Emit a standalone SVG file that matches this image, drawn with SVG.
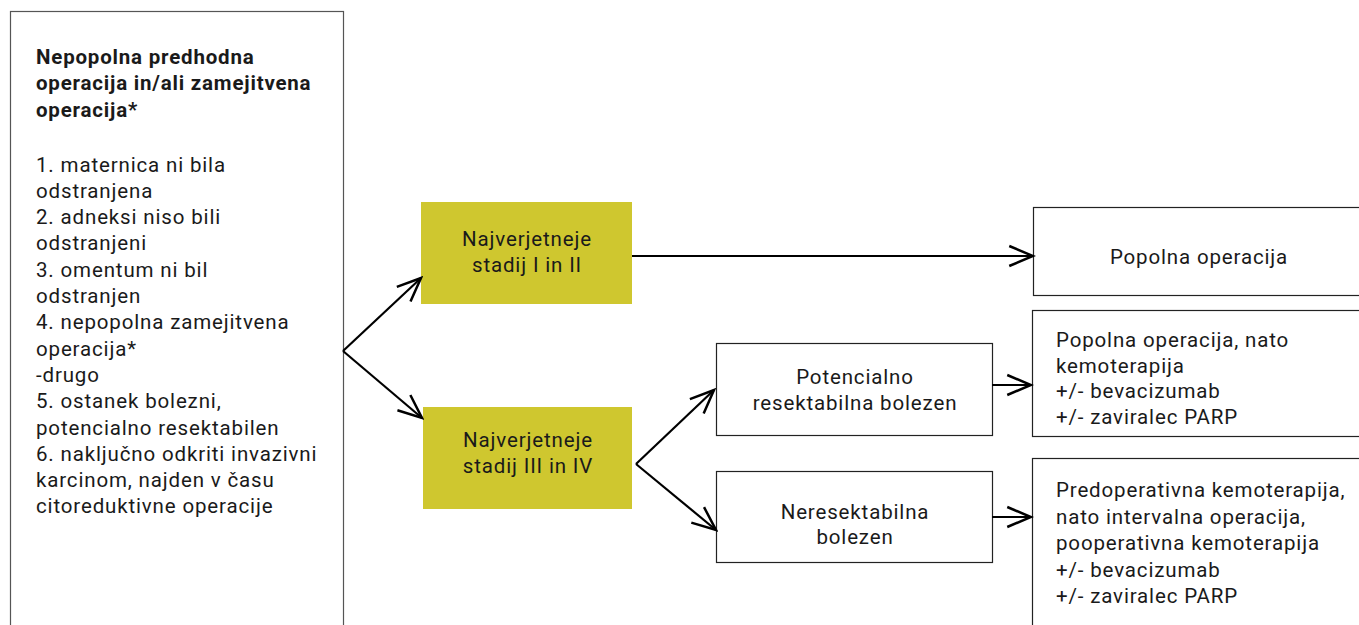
<svg xmlns="http://www.w3.org/2000/svg" width="1359" height="625" viewBox="0 0 1359 625">
<defs>
<marker id="arr" markerUnits="userSpaceOnUse" markerWidth="30" markerHeight="30" viewBox="-22 -11 24 22" refX="0" refY="0" orient="auto">
<path d="M-19,-8 L0,0 L-19,8" fill="none" stroke="#000" stroke-width="2"/>
</marker>
<style>
.t{font-family:Roboto,"Liberation Sans",sans-serif;font-size:20.5px;fill:#1a1a1a;letter-spacing:0.85px}
.b{font-weight:bold;letter-spacing:0.8px}
.c{text-anchor:middle}
.box{fill:#fff;stroke:#222;stroke-width:1.2}
.yel{fill:#cfc72f}
.con{fill:none;stroke:#000;stroke-width:2.2;marker-end:url(#arr)}
</style>
</defs>
<rect width="1359" height="625" fill="#fff"/>
<g id="left">
<rect x="10.5" y="11.5" width="333" height="700" fill="#fff" stroke="#555" stroke-width="1.2"/>
<text class="t b" x="36" y="63.5">Nepopolna predhodna</text>
<text class="t b" x="36" y="90">operacija in/ali zamejitvena</text>
<text class="t b" x="36" y="116.5">operacija*</text>
<text class="t" x="36" y="171.5">1. maternica ni bila</text>
<text class="t" x="36" y="197.8">odstranjena</text>
<text class="t" x="36" y="224.1">2. adneksi niso bili</text>
<text class="t" x="36" y="250.4">odstranjeni</text>
<text class="t" x="36" y="276.7">3. omentum ni bil</text>
<text class="t" x="36" y="303">odstranjen</text>
<text class="t" x="36" y="329.3">4. nepopolna zamejitvena</text>
<text class="t" x="36" y="355.6">operacija*</text>
<text class="t" x="36" y="381.9">-drugo</text>
<text class="t" x="36" y="408.2">5. ostanek bolezni,</text>
<text class="t" x="36" y="434.5">potencialno resektabilen</text>
<text class="t" x="36" y="460.8">6. naključno odkriti invazivni</text>
<text class="t" x="36" y="487.1">karcinom, najden v času</text>
<text class="t" x="36" y="513.4">citoreduktivne operacije</text>
</g>
<g id="stage12">
<rect class="yel" x="421" y="202" width="211" height="102"/>
<text class="t c" x="527" y="245.5">Najverjetneje</text>
<text class="t c" x="527" y="271.5">stadij I in II</text>
</g>
<g id="stage34">
<rect class="yel" x="423" y="407" width="209" height="102"/>
<text class="t c" x="528" y="446.5">Najverjetneje</text>
<text class="t c" x="528" y="472.5">stadij III in IV</text>
</g>
<g id="popolna">
<rect class="box" x="1033.5" y="207.5" width="340" height="88"/>
<text class="t c" x="1199" y="263.5">Popolna operacija</text>
</g>
<g id="potencialno">
<rect class="box" x="716.5" y="343.5" width="276" height="92"/>
<text class="t c" x="855" y="383.5">Potencialno</text>
<text class="t c" x="855" y="409.5">resektabilna bolezen</text>
</g>
<g id="neresektabilna">
<rect class="box" x="716.5" y="471.5" width="276" height="91"/>
<text class="t c" x="855" y="518.5">Neresektabilna</text>
<text class="t c" x="855" y="543.5">bolezen</text>
</g>
<g id="treat1">
<rect class="box" x="1032.5" y="310.5" width="340" height="126"/>
<text class="t" x="1056" y="346.5">Popolna operacija, nato</text>
<text class="t" x="1056" y="372.5">kemoterapija</text>
<text class="t" x="1056" y="398">+/- bevacizumab</text>
<text class="t" x="1056" y="423.5">+/- zaviralec PARP</text>
</g>
<g id="treat2">
<rect class="box" x="1032.5" y="458.5" width="340" height="200"/>
<text class="t" x="1056" y="496.5">Predoperativna kemoterapija,</text>
<text class="t" x="1056" y="523.5">nato intervalna operacija,</text>
<text class="t" x="1056" y="549.5">pooperativna kemoterapija</text>
<text class="t" x="1056" y="576.5">+/- bevacizumab</text>
<text class="t" x="1056" y="602.5">+/- zaviralec PARP</text>
</g>
<g id="connectors">
<path class="con" d="M343,351 L421,278"/>
<path class="con" d="M343,351 L422,418"/>
<path class="con" d="M632,256 L1033,256"/>
<path class="con" d="M636,464 L714,390"/>
<path class="con" d="M636,464 L716,530"/>
<path class="con" d="M992,385 L1031,385"/>
<path class="con" d="M992,517 L1031,517"/>
</g>
</svg>
